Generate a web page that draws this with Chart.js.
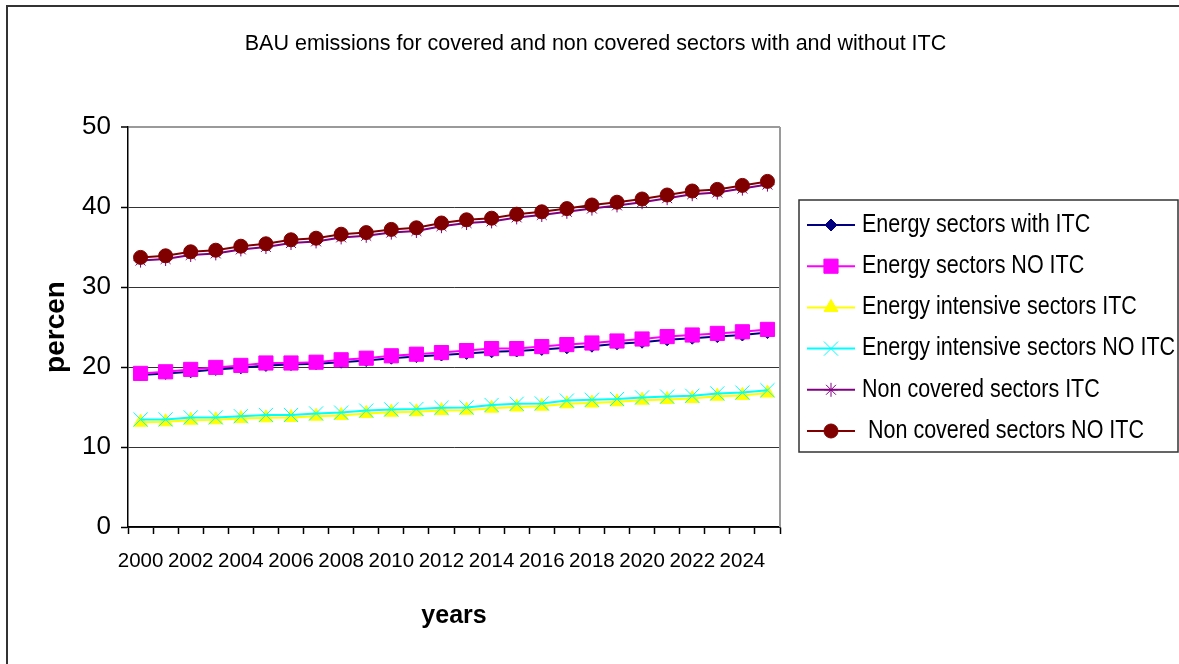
<!DOCTYPE html>
<html>
<head>
<meta charset="utf-8">
<script src="https://cdn.jsdelivr.net/npm/chart.js@4.4.0/dist/chart.umd.min.js"></script>
<style>
  html, body { margin: 0; padding: 0; background: #fff; }
  canvas#chart { display: block; }
</style>
</head>
<body>
<canvas id="chart" width="1179" height="664"></canvas>
<script>
/*
 * BAU emissions chart
**/
const years = ['2000', '2001', '2002', '2003', '2004', '2005', '2006', '2007', '2008',
  '2009', '2010', '2011', '2012', '2013', '2014', '2015', '2016', '2017', '2018', '2019',
  '2020', '2021', '2022', '2023', '2024', '2025'];

const energyWithItc = [19.0, 19.2, 19.4, 19.7, 19.9, 20.2, 20.3, 20.4, 20.6, 20.8, 21.1, 21.3, 21.5,
  21.7, 21.9, 22.0, 22.2, 22.4, 22.6, 22.9, 23.1, 23.4, 23.6, 23.8, 24.0, 24.3];
const energyNoItc = [19.2, 19.4, 19.7, 19.95, 20.2, 20.5, 20.5, 20.6, 20.9, 21.1, 21.4, 21.6, 21.8,
  22.05, 22.3, 22.3, 22.55, 22.8, 23.0, 23.25, 23.5, 23.8, 24.0, 24.2, 24.4, 24.7];
const intensiveItc = [13.1, 13.15, 13.35, 13.4, 13.55, 13.65, 13.7, 13.85, 13.95, 14.2, 14.35, 14.4, 14.55,
  14.6, 14.85, 15.0, 15.1, 15.4, 15.5, 15.65, 15.85, 15.95, 16.05, 16.35, 16.45, 16.75];
const intensiveNoItc = [13.45, 13.45, 13.7, 13.7, 13.85, 14.0, 14.0, 14.2, 14.3, 14.55, 14.7, 14.75, 14.9,
  14.95, 15.25, 15.4, 15.45, 15.8, 15.9, 16.0, 16.2, 16.3, 16.4, 16.7, 16.8, 17.1];
const nonCoveredItc = [33.3, 33.5, 34.0, 34.2, 34.7, 35.0, 35.5, 35.7, 36.2, 36.4, 36.8, 37.0, 37.6,
  38.0, 38.2, 38.7, 39.0, 39.4, 39.8, 40.2, 40.6, 41.1, 41.6, 41.8, 42.3, 42.8];
const nonCoveredNoItc = [33.7, 33.9, 34.4, 34.6, 35.1, 35.4, 35.9, 36.1, 36.6, 36.8, 37.2, 37.4, 38.0,
  38.4, 38.6, 39.1, 39.4, 39.8, 40.25, 40.6, 41.0, 41.5, 42.0, 42.2, 42.7, 43.2];

const seriesLabels = [
  'Energy sectors with ITC',
  'Energy sectors NO ITC',
  'Energy intensive sectors ITC',
  'Energy intensive sectors NO ITC',
  'Non covered sectors ITC',
  ' Non covered sectors NO ITC'
];

const titleText = 'BAU emissions for covered and non covered sectors with and without ITC';
const yTitle = 'percen';
const xTitle = 'years';

const FONT = "'Liberation Sans', Arial, sans-serif";

// Excel-ish series look: colour, marker, marker radius
const seriesStyles = [
  { color: '#000080', point: 'rectRot', radius: 6 },
  { color: '#FF00FF', point: 'rect', radius: 10 },
  { color: '#FFFF00', point: 'triangle', radius: 8 },
  { color: '#00FFFF', point: 'crossRot', radius: 10 },
  { color: '#800080', point: 'star', radius: 7 },
  { color: '#800000', point: 'circle', radius: 7 }
];


class EmissionsChart {
  constructor(selector) {
    this.canvas = document.querySelector(selector);
    this.chart = new Chart(this.canvas, this.chartConfig);
  }

  get seriesData() {
    return [energyWithItc, energyNoItc, intensiveItc, intensiveNoItc, nonCoveredItc, nonCoveredNoItc];
  }

  get datasets() {
    return this.seriesData.map((data, i) => {
      const style = seriesStyles[i];
      return {
        label: seriesLabels[i],
        data: data,
        borderColor: style.color,
        backgroundColor: style.color,
        borderWidth: 2,
        pointStyle: style.point,
        pointRadius: style.radius,
        pointBackgroundColor: style.color,
        pointBorderColor: style.color,
        pointBorderWidth: 1,
        tension: 0,
        fill: false,
        order: seriesLabels.length - i
      };
    });
  }

  get chartConfig() {
    return {
      type: 'line',
      data: { labels: years, datasets: this.datasets },
      options: {
        responsive: false,
        animation: false,
        layout: { padding: { left: 10, right: 399, top: 127, bottom: 0 } },
        plugins: {
          legend: { display: false },
          title: { display: false },
          tooltip: { enabled: false }
        },
        scales: { x: this.xScale, y: this.yScale }
      },
      plugins: [this.framePlugin, this.legendPlugin]
    };
  }

  get xScale() {
    return {
      type: 'category',
      offset: true,
      grid: { offset: true, drawOnChartArea: false, drawTicks: true, tickLength: 7, tickColor: '#000', tickWidth: 1.5 },
      border: { color: '#000', width: 1.5 },
      ticks: {
        autoSkip: false,
        maxRotation: 0,
        minRotation: 0,
        padding: 15,
        color: '#000',
        font: { family: FONT, size: 20.5 },
        callback: function(value, index) {
          return index % 2 === 0 ? this.getLabelForValue(value) : '';
        }
      },
      title: {
        display: true,
        text: xTitle,
        color: '#000',
        font: { family: FONT, size: 25, weight: 'bold', lineHeight: 1 },
        padding: { top: 0, bottom: 35 }
      },
      afterFit: (scale) => { scale.height = 137; }
    };
  }

  get yScale() {
    return {
      min: 0,
      max: 50,
      ticks: { stepSize: 10, padding: 10, color: '#000', font: { family: FONT, size: 26 } },
      grid: {
        color: (ctx) => (ctx.tick && ctx.tick.value === 50) ? '#9a9a9a' : '#333',
        lineWidth: (ctx) => (ctx.tick && ctx.tick.value === 50) ? 2 : 1,
        tickLength: 7,
        tickColor: '#000',
        tickWidth: 1.5
      },
      border: { color: '#000', width: 1.5 },
      title: {
        display: true,
        text: yTitle,
        color: '#000',
        font: { family: FONT, size: 28, weight: 'bold', lineHeight: 1 },
        padding: { top: 32, bottom: 0 }
      },
      afterFit: (scale) => { scale.width = 118; }
    };
  }

  // outer frame, title and the grey plot-area edge
  get framePlugin() {
    return {
      id: 'frame',
      beforeDraw(chart) {
        const ctx = chart.ctx;
        ctx.save();
        ctx.fillStyle = '#fff';
        ctx.fillRect(0, 0, chart.width, chart.height);
        ctx.strokeStyle = '#333';
        ctx.lineWidth = 2;
        ctx.beginPath();
        ctx.moveTo(7, chart.height);
        ctx.lineTo(7, 6);
        ctx.lineTo(chart.width, 6);
        ctx.stroke();

        ctx.fillStyle = '#000';
        ctx.font = '21.5px ' + FONT;
        ctx.textAlign = 'center';
        ctx.textBaseline = 'middle';
        ctx.fillText(titleText, chart.width / 2 + 6, 44);
        ctx.restore();
      },
      afterDraw(chart) {
        const a = chart.chartArea;
        const ctx = chart.ctx;
        ctx.save();
        ctx.strokeStyle = '#9a9a9a';
        ctx.lineWidth = 2;
        ctx.beginPath();
        ctx.moveTo(a.right, a.top);
        ctx.lineTo(a.right, a.bottom);
        ctx.stroke();
        ctx.restore();
      }
    };
  }

  // Excel-style boxed legend: line sample with marker, then label
  get legendPlugin() {
    return {
      id: 'boxLegend',
      afterDraw(chart) {
        const ctx = chart.ctx;
        const box = { left: chart.chartArea.right + 19, top: 200, right: chart.width - 1, bottom: 452 };
        ctx.save();
        ctx.strokeStyle = '#333';
        ctx.lineWidth = 1.5;
        ctx.strokeRect(box.left, box.top, box.right - box.left, box.bottom - box.top);

        chart.data.datasets.forEach((ds, i) => {
          const y = box.top + 25 + i * 41.2;
          const x0 = box.left + 8;
          const x1 = box.left + 56;
          ctx.strokeStyle = ds.borderColor;
          ctx.lineWidth = 2;
          ctx.beginPath();
          ctx.moveTo(x0, y);
          ctx.lineTo(x1, y);
          ctx.stroke();

          ctx.fillStyle = ds.pointBackgroundColor;
          ctx.strokeStyle = ds.pointBorderColor;
          ctx.lineWidth = 1;
          if (Chart.helpers && Chart.helpers.drawPoint) {
            Chart.helpers.drawPoint(ctx, {
              pointStyle: ds.pointStyle, rotation: 0, radius: ds.pointRadius, borderWidth: 1
            }, (x0 + x1) / 2, y);
          }

          // squeeze the label a little, the source used a condensed face
          ctx.save();
          ctx.translate(box.left + 63, y);
          ctx.scale(0.86, 1);
          ctx.fillStyle = '#000';
          ctx.font = '25px ' + FONT;
          ctx.textAlign = 'left';
          ctx.textBaseline = 'middle';
          ctx.fillText(ds.label, 0, 0);
          ctx.restore();
        });
        ctx.restore();
      }
    };
  }
}


document.addEventListener('DOMContentLoaded', () => {
  new EmissionsChart('canvas#chart');
});
</script>
</body>
</html>
